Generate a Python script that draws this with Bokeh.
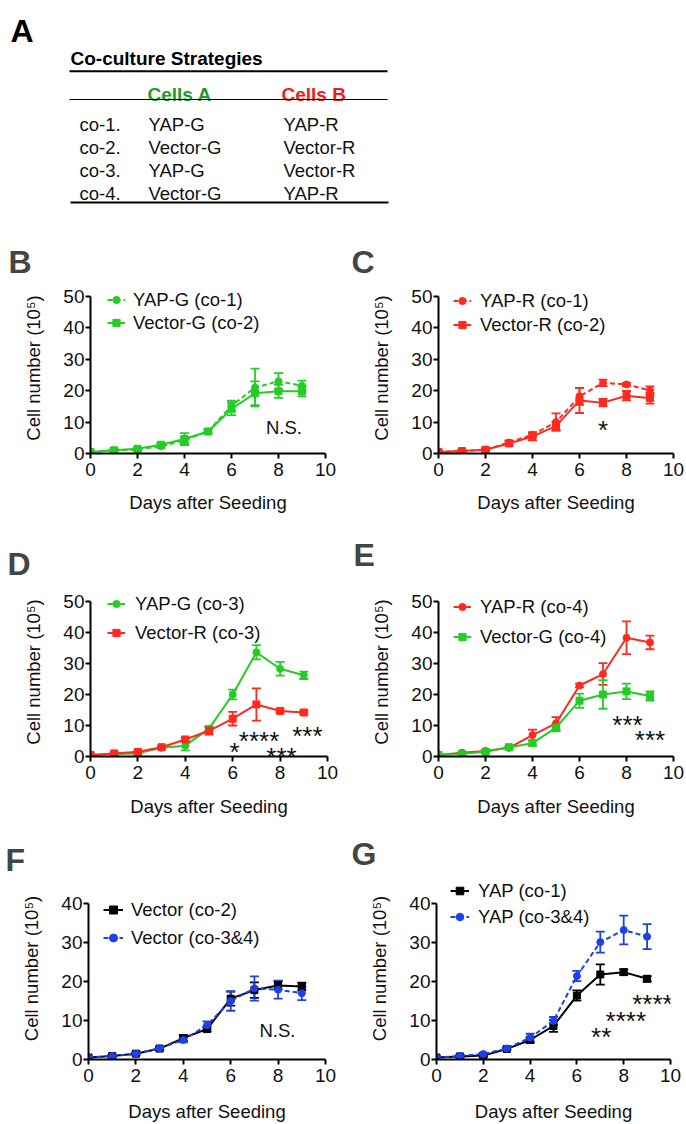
from bokeh.plotting import figure
from bokeh.models import (Range1d, ColumnDataSource, Whisker, TeeHead, Legend,
                          LegendItem, FixedTicker)
from bokeh.layouts import column, row
from bokeh.embed import file_html
from bokeh.resources import INLINE
from bokeh.core.properties import value

FONT = "Liberation Sans"
GREEN = "#26cc26"
RED = "#ff2a1f"
BLUE = "#1f3fe8"
BLACK = "#000000"
TXT_GREEN = "#22992a"
TXT_RED = "#ee1c1c"

# ---------------- data ----------------
days = [0, 1, 2, 3, 4, 5, 6, 7, 8, 9]
x_ticks = [0, 2, 4, 6, 8, 10]

# Panel A (table)
table_title = "Co-culture Strategies"
col_heads = ["Cells A", "Cells B"]
strategies = ["co-1.", "co-2.", "co-3.", "co-4."]
cells_a = ["YAP-G", "Vector-G", "YAP-G", "Vector-G"]
cells_b = ["YAP-R", "Vector-R", "Vector-R", "YAP-R"]

# Panel B
b_labels = ["YAP-G (co-1)", "Vector-G (co-2)"]
b_yapg = [0.5, 1.0, 1.3, 2.3, 4.2, 7.0, 15.2, 21.0, 23.0, 21.6]
b_yapg_err = [0.2, 0.3, 0.5, 0.6, 1.0, 0.6, 1.6, 6.0, 2.6, 1.6]
b_vecg = [0.5, 1.0, 1.5, 2.8, 4.6, 7.0, 14.2, 19.2, 19.8, 19.8]
b_vecg_err = [0.2, 0.3, 0.4, 0.6, 1.9, 0.6, 2.0, 3.8, 2.1, 1.6]

# Panel C
c_labels = ["YAP-R (co-1)", "Vector-R (co-2)"]
c_yapr = [0.5, 0.8, 1.2, 3.5, 6.0, 10.0, 18.2, 22.5, 22.0, 20.1]
c_yapr_err = [0.2, 0.3, 0.4, 0.6, 0.8, 2.8, 2.7, 1.0, 0.5, 1.3]
c_vecr = [0.5, 0.8, 1.2, 3.2, 5.4, 8.8, 16.9, 16.2, 18.4, 17.6]
c_vecr_err = [0.2, 0.3, 0.4, 0.6, 1.2, 1.3, 4.0, 1.2, 1.5, 1.7]
c_sig_x = [7]
c_sig_y = [10.2]
c_sig_t = ["*"]

# Panel D
d_labels = ["YAP-G (co-3)", "Vector-R (co-3)"]
d_yapg = [0.5, 0.8, 1.0, 2.8, 3.5, 9.0, 20.0, 33.6, 28.3, 26.2]
d_yapg_err = [0.2, 0.3, 0.3, 0.4, 1.5, 0.8, 1.6, 2.3, 2.2, 1.2]
d_vecr = [0.5, 1.0, 1.5, 3.0, 5.5, 8.3, 12.2, 16.8, 14.7, 14.2]
d_vecr_err = [0.2, 0.3, 0.4, 0.4, 0.6, 1.2, 2.2, 5.2, 0.5, 0.5]
d_sig_x = [6.08, 7.11, 8.06, 9.15]
d_sig_y = [4.3, 8.0, 2.9, 9.6]
d_sig_t = ["*", "****", "***", "***"]

# Panel E
e_labels = ["YAP-R (co-4)", "Vector-G (co-4)"]
e_yapr = [0.5, 1.2, 1.8, 2.8, 6.9, 10.7, 22.9, 26.6, 38.3, 36.8]
e_yapr_err = [0.2, 0.3, 0.4, 0.4, 1.8, 2.0, 0.6, 3.5, 5.3, 2.2]
e_vecg = [0.5, 0.9, 1.5, 3.0, 4.3, 9.3, 18.0, 20.0, 21.0, 19.5]
e_vecg_err = [0.2, 0.3, 0.3, 0.4, 0.8, 1.2, 2.3, 4.6, 2.5, 1.5]
e_sig_x = [8.04, 9.0]
e_sig_y = [13.2, 8.1]
e_sig_t = ["***", "***"]

# Panel F
f_labels = ["Vector (co-2)", "Vector (co-3&4)"]
f_vec2 = [0.5, 0.9, 1.5, 2.8, 5.5, 7.8, 15.6, 17.8, 19.0, 18.7]
f_vec2_err = [0.2, 0.3, 0.3, 0.4, 0.8, 0.6, 1.8, 2.0, 1.0, 1.0]
f_vec34 = [0.5, 0.9, 1.5, 2.9, 5.0, 8.8, 15.0, 18.2, 17.9, 17.0]
f_vec34_err = [0.2, 0.3, 0.3, 0.4, 0.6, 1.0, 2.5, 3.1, 2.3, 1.8]

# Panel G
g_labels = ["YAP (co-1)", "YAP (co-3&4)"]
g_yap1 = [0.5, 0.8, 1.0, 2.7, 5.0, 8.6, 16.4, 21.8, 22.4, 20.7]
g_yap1_err = [0.2, 0.3, 0.3, 0.3, 0.7, 1.5, 1.3, 2.6, 0.7, 0.7]
g_yap34 = [0.5, 0.9, 1.4, 2.8, 5.6, 9.9, 21.4, 30.1, 33.2, 31.5]
g_yap34_err = [0.2, 0.3, 0.3, 0.3, 1.0, 1.0, 1.3, 2.7, 3.7, 3.2]
g_sig_x = [7.04, 8.09, 9.23]
g_sig_y = [8.2, 12.1, 16.5]
g_sig_t = ["**", "****", "****"]

ns_b = (8.23, 8.3)
ns_f = (7.97, 7.4)

y_ticks50 = [0, 10, 20, 30, 40, 50]
y_ticks40 = [0, 10, 20, 30, 40]

X_LABEL = "Days after Seeding"
Y_LABEL = "Cell number (10\u2075)"


# ---------------- panel A ----------------
def make_table():
    W, H = 686, 225
    p = figure(width=W, height=H, x_range=Range1d(0, W), y_range=Range1d(H, 0),
               x_axis_type=None, y_axis_type=None, toolbar_location=None,
               output_backend="svg", min_border=0, outline_line_color=None)
    p.grid.visible = False
    p.text(x=[10], y=[30], text=["A"], text_font=value(FONT), text_font_size="32px",
           text_font_style="bold", text_baseline="alphabetic", text_color="black")
    p.text(x=[70], y=[58], text=[table_title], text_font=value(FONT),
           text_font_size="19px", text_font_style="bold", text_baseline="alphabetic",
           text_color="black")
    p.segment(x0=[69], y0=[70.7], x1=[387], y1=[70.7], line_color="black", line_width=2)
    p.text(x=[147, 281], y=[94, 94], text=col_heads, text_font=value(FONT),
           text_font_size="19px", text_font_style="bold", text_baseline="alphabetic",
           text_color=[TXT_GREEN, TXT_RED])
    p.segment(x0=[69], y0=[99], x1=[387], y1=[99], line_color="black", line_width=1.2)
    ys = [124 + 23 * i for i in range(len(strategies))]
    for xs, col in ((79, strategies), (148, cells_a), (283, cells_b)):
        p.text(x=[xs] * len(col), y=ys, text=col, text_font=value(FONT),
               text_font_size="18.5px", text_baseline="alphabetic", text_color="#111111")
    p.segment(x0=[70], y0=[202], x1=[388], y1=[202], line_color="black", line_width=2)
    return p


# ---------------- growth panels ----------------
LEG_SHIFT = 5  # empirical correction of the legend's vertical placement


def make_panel(letter, letter_pos, series, y_max, y_ticks, fig_w, fig_h, left, top, fw, fh,
               ext, leg_x, leg_row1, leg_pitch, leg_standoff, leg_glyph_w,
               sig=None, ns=None, xlab_standoff=16):
    # 'top' / 'fh' describe the data area (0..y_max); 'ext' px of free frame above it
    right = fig_w - left - fw
    bottom = fig_h - top - fh
    y_end = y_max * (fh + ext) / fh
    p = figure(width=fig_w, height=fig_h, x_range=Range1d(0, 10), y_range=Range1d(0, y_end),
               toolbar_location=None, output_backend="svg",
               min_border_left=left, min_border_right=right,
               min_border_top=top - ext, min_border_bottom=bottom,
               outline_line_color=None)
    p.grid.visible = False
    for ax in (p.xaxis[0], p.yaxis[0]):
        ax.axis_line_width = 2
        ax.axis_line_color = "black"
        ax.major_tick_line_width = 2
        ax.major_tick_line_color = "black"
        ax.major_tick_out = 5
        ax.major_tick_in = 0
        ax.minor_tick_line_color = None
        ax.major_label_text_font = FONT
        ax.major_label_text_font_size = "19px"
        ax.major_label_text_color = "#111111"
        ax.axis_label_text_font = FONT
        ax.axis_label_text_font_size = "18.5px"
        ax.axis_label_text_font_style = "normal"
        ax.axis_label_text_color = "#111111"
    p.xaxis.ticker = FixedTicker(ticks=x_ticks)
    p.yaxis.ticker = FixedTicker(ticks=y_ticks)
    p.yaxis.bounds = (0, y_max)
    p.xaxis.bounds = (0, 10)
    p.xaxis.axis_label = X_LABEL
    p.yaxis.axis_label = Y_LABEL
    p.xaxis.major_label_standoff = 4
    p.yaxis.major_label_standoff = 1
    p.xaxis.axis_label_standoff = xlab_standoff
    p.yaxis.axis_label_standoff = 16

    # panel letter as the figure title
    lx, lstand, lbase = letter_pos
    p.title.text = letter
    p.title.text_font = FONT
    p.title.text_font_size = "32px"
    p.title.text_font_style = "bold"
    p.title.align = "left"
    p.title.offset = lx - left
    p.title.standoff = lstand
    p.title.text_baseline = lbase

    items = []
    for label, vals, errs, color, marker, dashed in series:
        src = ColumnDataSource(dict(x=days, y=vals,
                                    upper=[v + e for v, e in zip(vals, errs)],
                                    lower=[v - e for v, e in zip(vals, errs)]))
        w = Whisker(base="x", upper="upper", lower="lower", source=src, dimension="height",
                    line_color=color, line_width=1.8,
                    upper_head=TeeHead(size=9, line_color=color, line_width=1.8),
                    lower_head=TeeHead(size=9, line_color=color, line_width=1.8))
        p.add_layout(w)
        lr = p.line("x", "y", source=src, line_color=color, line_width=2,
                    line_dash="5 3" if dashed else "solid")
        sr = p.scatter("x", "y", source=src, marker=marker, size=7,
                       fill_color=color, line_color=color)
        items.append(LegendItem(label=label, renderers=[lr, sr]))

    row_h = 21
    spacing = leg_pitch - row_h
    leg_h = 2 * row_h + spacing
    top_off = ext + leg_row1 + LEG_SHIFT - row_h / 2   # from the top of the frame
    leg_y = (fh + ext) - top_off - leg_h
    legend = Legend(items=items, location=(leg_x, leg_y), padding=0, margin=0,
                    spacing=spacing, glyph_width=leg_glyph_w, glyph_height=row_h,
                    label_height=row_h, label_standoff=leg_standoff,
                    label_text_font=FONT, label_text_font_size="18.5px",
                    label_text_color="#111111",
                    border_line_alpha=0, background_fill_alpha=0)
    p.add_layout(legend)

    if sig is not None:
        sx, sy, st = sig
        p.text(x=sx, y=sy, text=st, text_font=value(FONT), text_font_size="26px",
               text_align="center", text_baseline="alphabetic", y_offset=9,
               text_color="#111111")
    if ns is not None:
        p.text(x=[ns[0]], y=[ns[1]], text=["N.S."], text_font=value(FONT),
               text_font_size="18.5px", text_align="center", text_baseline="middle",
               text_color="#111111")
    return p


pA = make_table()

pB = make_panel("B", (8, 6, "bottom"),
                [(b_labels[0], b_yapg, b_yapg_err, GREEN, "circle", True),
                 (b_labels[1], b_vecg, b_vecg_err, GREEN, "square", False)],
                50, y_ticks50, 343, 290, 90, 71, 235, 157,
                14, 17, 0, 22, 8, 18, ns=ns_b, xlab_standoff=13)
pC = make_panel("C", (8, 6, "bottom"),
                [(c_labels[0], c_yapr, c_yapr_err, RED, "circle", True),
                 (c_labels[1], c_vecr, c_vecr_err, RED, "square", False)],
                50, y_ticks50, 343, 290, 95, 71, 235, 157,
                14, 15, 1, 23, 9, 18, sig=(c_sig_x, c_sig_y, c_sig_t), xlab_standoff=13)
pD = make_panel("D", (7, 12, "bottom"),
                [(d_labels[0], d_yapg, d_yapg_err, GREEN, "circle", False),
                 (d_labels[1], d_vecr, d_vecr_err, RED, "square", False)],
                50, y_ticks50, 343, 304, 90, 86, 237, 155,
                14, 17, -1, 28, 10, 18, sig=(d_sig_x, d_sig_y, d_sig_t), xlab_standoff=14)
pE = make_panel("E", (10, 30, "bottom"),
                [(e_labels[0], e_yapr, e_yapr_err, RED, "circle", False),
                 (e_labels[1], e_vecg, e_vecg_err, GREEN, "square", False)],
                50, y_ticks50, 343, 304, 95, 86, 235, 155,
                14, 15, 2, 29, 9, 18, sig=(e_sig_x, e_sig_y, e_sig_t), xlab_standoff=14)
pF = make_panel("F", (5, 0, "alphabetic"),
                [(f_labels[0], f_vec2, f_vec2_err, BLACK, "square", False),
                 (f_labels[1], f_vec34, f_vec34_err, BLUE, "circle", True)],
                40, y_ticks40, 343, 305, 88, 84, 237, 156,
                26, 15, 3, 27, 8, 20, ns=ns_f, xlab_standoff=16)
pG = make_panel("G", (8, 12, "alphabetic"),
                [(g_labels[0], g_yap1, g_yap1_err, BLACK, "square", False),
                 (g_labels[1], g_yap34, g_yap34_err, BLUE, "circle", True)],
                40, y_ticks40, 343, 305, 93, 84, 234, 156,
                26, 14, -16, 25, 9, 19, sig=(g_sig_x, g_sig_y, g_sig_t), xlab_standoff=16)

layout = column(pA, row(pB, pC), row(pD, pE), row(pF, pG))
open("out.html", "w").write(file_html(layout, INLINE))
